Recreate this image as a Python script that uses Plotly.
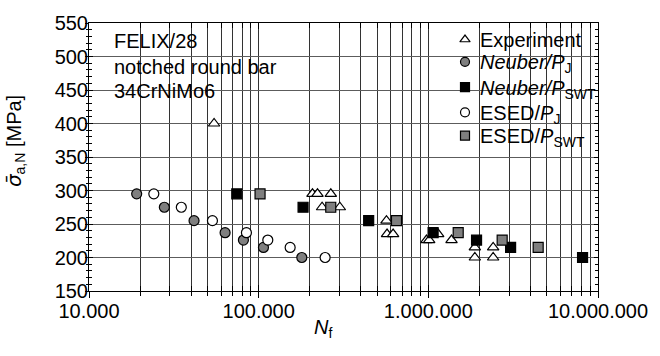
import plotly.graph_objects as go

# Fatigue life N_f vs. nominal stress amplitude (FELIX/28, notched round bar, 34CrNiMo6)
exp_n = [54600, 207600, 222200, 266200, 236500, 300900, 566600, 571000, 620000,
         975000, 1012000, 1143000, 1370000, 1880000, 1880000, 2410000, 2410000]
exp_s = [400, 295, 295, 295, 275, 275, 255, 235, 235,
         226, 226, 235, 226, 215, 200, 215, 200]

neuber_pj_n = [19100, 27800, 41600, 63400, 81300, 106700, 179600]
neuber_pj_s = [295, 275, 255, 237, 226, 215, 200]

neuber_pswt_n = [74300, 182700, 445000, 1067000, 1924000, 3054000, 8110000]
neuber_pswt_s = [295, 275, 255, 237, 226, 215, 200]

esed_pj_n = [24100, 35000, 53400, 84700, 113200, 153300, 246400]
esed_pj_s = [295, 275, 255, 237, 226, 215, 200]

esed_pswt_n = [101900, 266000, 649000, 1500000, 2724000, 4440000]
esed_pswt_s = [295, 275, 255, 237, 226, 215]

x_major = [1e4, 1e5, 1e6, 1e7]
x_labels = ["10.000", "100.000", "1.000.000", "10.000.000"]
x_minor = [m * 10 ** e for e in range(4, 7) for m in range(2, 10)]

series_names = ["Experiment",
                "<i>Neuber/P</i><sub>J</sub>",
                "<i>Neuber/P</i><sub>SWT</sub>",
                "ESED/<i>P</i><sub>J</sub>",
                "ESED/<i>P</i><sub>SWT</sub>"]
series_symbols = ["triangle-up", "circle", "square", "circle", "square"]
series_fills = ["white", "#7f7f7f", "black", "white", "#7f7f7f"]
series_data = [(exp_n, exp_s), (neuber_pj_n, neuber_pj_s),
               (neuber_pswt_n, neuber_pswt_s), (esed_pj_n, esed_pj_s),
               (esed_pswt_n, esed_pswt_s)]

FONT = "Liberation Sans, Arial, sans-serif"
GRID_V = "#333333"
GRID_H = "#5c5c5c"

# plot area in page pixels
L, R, T, B = 89, 598, 15, 291
PW, PH = R - L, B - T

fig = go.Figure()

for name, (xs, ys), sym, fill in zip(series_names, series_data, series_symbols, series_fills):
    fig.add_trace(go.Scatter(
        x=xs, y=ys, mode="markers", name=name, showlegend=False,
        marker=dict(symbol=sym, size=10, color=fill,
                    line=dict(color="black", width=1.2)),
    ))

# legend keys, drawn on a pixel-scaled overlay (x from plot left, y from plot top)
key_x = 376
key_y = [17, 40, 66, 92, 116]
for (sym, fill, ky) in zip(series_symbols, series_fills, key_y):
    fig.add_trace(go.Scatter(
        x=[key_x], y=[ky], xaxis="x3", yaxis="y3", mode="markers",
        showlegend=False, hoverinfo="skip",
        marker=dict(symbol=sym, size=9, color=fill,
                    line=dict(color="black", width=1.2)),
    ))
for name, ky in zip(series_names, key_y):
    shift = 2 if "<sub>" in name else 0
    fig.add_annotation(
        xref="paper", yref="paper", x=(478 - L) / PW, y=1 - (ky + shift) / PH,
        xanchor="left", yanchor="middle", text=name, showarrow=False,
        font=dict(family=FONT, size=20, color="black"),
    )

# helper trace so the overlay tick axes get drawn
fig.add_trace(go.Scatter(x=[None], y=[None], xaxis="x2", yaxis="y2",
                         showlegend=False, hoverinfo="skip"))

tickfont = dict(family=FONT, size=20, color="black")

fig.update_layout(
    width=660, height=356,
    margin=dict(l=L, r=660 - R, t=T, b=356 - B),
    paper_bgcolor="white", plot_bgcolor="white",
    font=dict(family=FONT, size=20, color="black"),
    showlegend=False,
    xaxis=dict(type="log", range=[4, 7], tickmode="array",
               tickvals=x_major, ticktext=x_labels, tickfont=tickfont,
               ticks="outside", ticklen=6, tickcolor="black",
               ticklabelstandoff=-4,
               showgrid=True, gridcolor=GRID_V, gridwidth=1,
               showline=True, linecolor="black", linewidth=1, mirror=True,
               minor=dict(tickmode="array", tickvals=x_minor, ticks="outside",
                          ticklen=4, tickcolor="black",
                          showgrid=True, gridcolor=GRID_V, gridwidth=1),
               zeroline=False),
    yaxis=dict(range=[150, 550], tickmode="linear", tick0=150, dtick=50,
               tickfont=tickfont, ticks="outside", ticklen=3, tickcolor="black",
               ticklabelstandoff=-7,
               showgrid=True, gridcolor=GRID_H, gridwidth=1.3,
               showline=True, linecolor="black", linewidth=1, mirror=True,
               minor=dict(dtick=10, tick0=150, ticks="outside", ticklen=2,
                          tickcolor="black", showgrid=False),
               zeroline=False),
    xaxis2=dict(type="log", range=[4, 7], overlaying="x", side="bottom",
                tickmode="array", tickvals=x_major, showticklabels=False,
                ticks="inside", ticklen=6, tickcolor="black", mirror="allticks",
                showline=False, showgrid=False, zeroline=False,
                minor=dict(tickmode="array", tickvals=x_minor, ticks="inside",
                           ticklen=5, tickcolor="black")),
    yaxis2=dict(range=[150, 550], overlaying="y", side="left",
                tickmode="linear", tick0=150, dtick=50, showticklabels=False,
                ticks="inside", ticklen=4, tickcolor="black", mirror="allticks",
                showline=False, showgrid=False, zeroline=False,
                minor=dict(dtick=10, tick0=150, ticks="inside", ticklen=3,
                           tickcolor="black")),
    xaxis3=dict(range=[0, PW], overlaying="x", visible=False, fixedrange=True),
    yaxis3=dict(range=[PH, 0], overlaying="y", visible=False, fixedrange=True),
)

# white panels behind the description and the legend
fig.add_shape(type="rect", xref="paper", yref="paper",
              x0=(108 - L) / PW, x1=(285 - L) / PW, y0=1 - (100 - T) / PH, y1=1.0,
              fillcolor="white", line=dict(width=0), layer="between")
fig.add_shape(type="rect", xref="paper", yref="paper",
              x0=(459 - L) / PW, x1=1.0, y0=1 - (157 - T) / PH, y1=1.0,
              fillcolor="white", line=dict(width=0), layer="between")

for line, cy in zip(["FELIX/28", "notched round bar", "34CrNiMo6"], [33.5, 60, 85]):
    fig.add_annotation(
        xref="paper", yref="paper", x=(112 - L) / PW, y=1 - (cy - T) / PH,
        xanchor="left", yanchor="middle", text=line, showarrow=False,
        font=dict(family=FONT, size=20, color="black"),
    )

# axis titles
fig.add_annotation(
    xref="paper", yref="paper", x=(323 - L) / PW, y=-0.085, xanchor="center",
    yanchor="top", text="<i>N</i><sub>f</sub>", showarrow=False,
    font=dict(family=FONT, size=20, color="black"),
)
fig.add_annotation(
    xref="paper", yref="paper", x=-0.145, y=0.56, xanchor="center", yanchor="middle",
    textangle=-90,
    text="<span style=\"font-family:DejaVu Sans\"><i>σ̄</i></span><sub>a,N</sub> [MPa]",
    showarrow=False,
    font=dict(family=FONT, size=20, color="black"),
)

fig.write_html("out.html")
